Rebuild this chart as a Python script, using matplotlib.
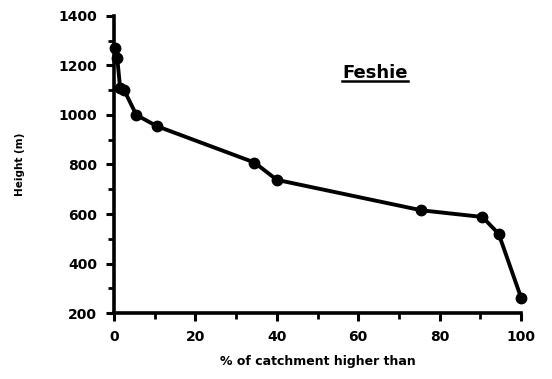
import matplotlib
matplotlib.use('Agg')
import matplotlib.pyplot as plt
from matplotlib.ticker import MultipleLocator
from matplotlib.lines import Line2D

# hypsometric curve for the Feshie catchment
pct_higher = [0.3, 0.8, 1.5, 2.5, 5.5, 10.5, 34.5, 40, 75.5, 90.5, 94.5, 100]
height_m = [1270, 1230, 1110, 1100, 1000, 955, 808, 738, 615, 588, 520, 262]

plt.rcParams['font.family'] = 'DejaVu Sans'
plt.rcParams['font.weight'] = 'bold'

fig = plt.figure(figsize=(5.52, 3.79), dpi=100)
ax = fig.add_axes([0.2065, 0.174, 0.7375, 0.784])

ax.plot(pct_higher, height_m, color='black', lw=2.8, marker='o', ms=7.5,
        clip_on=False, zorder=3)

ax.set_xlim(0, 100)
ax.set_ylim(200, 1400)
ax.xaxis.set_major_locator(MultipleLocator(20))
ax.xaxis.set_minor_locator(MultipleLocator(10))
ax.yaxis.set_major_locator(MultipleLocator(200))
ax.yaxis.set_minor_locator(MultipleLocator(100))

for side in ['top', 'right']:
    ax.spines[side].set_visible(False)
for side in ['left', 'bottom']:
    ax.spines[side].set_linewidth(2.6)

ax.tick_params(which='major', length=6, width=2.2, labelsize=10, pad=6)
ax.tick_params(which='minor', length=4, width=2.0)
for lbl in ax.get_xticklabels() + ax.get_yticklabels():
    lbl.set_fontweight('bold')

ax.set_xlabel('% of catchment higher than', fontsize=9, fontweight='bold', labelpad=8)
ax.set_ylabel('Height (m)', fontsize=7.5, fontweight='bold', labelpad=24)

title = ax.text(0.641, 0.808, 'Feshie', transform=ax.transAxes,
                ha='center', va='center', fontsize=13, fontweight='bold')

# underline the catchment name
fig.canvas.draw()
bb = title.get_window_extent().transformed(fig.transFigure.inverted())
fig.add_artist(Line2D([bb.x0, bb.x1], [bb.y0 + 0.003, bb.y0 + 0.003],
                      transform=fig.transFigure, color='black', lw=1.8))

fig.savefig('out.png', dpi=100)
